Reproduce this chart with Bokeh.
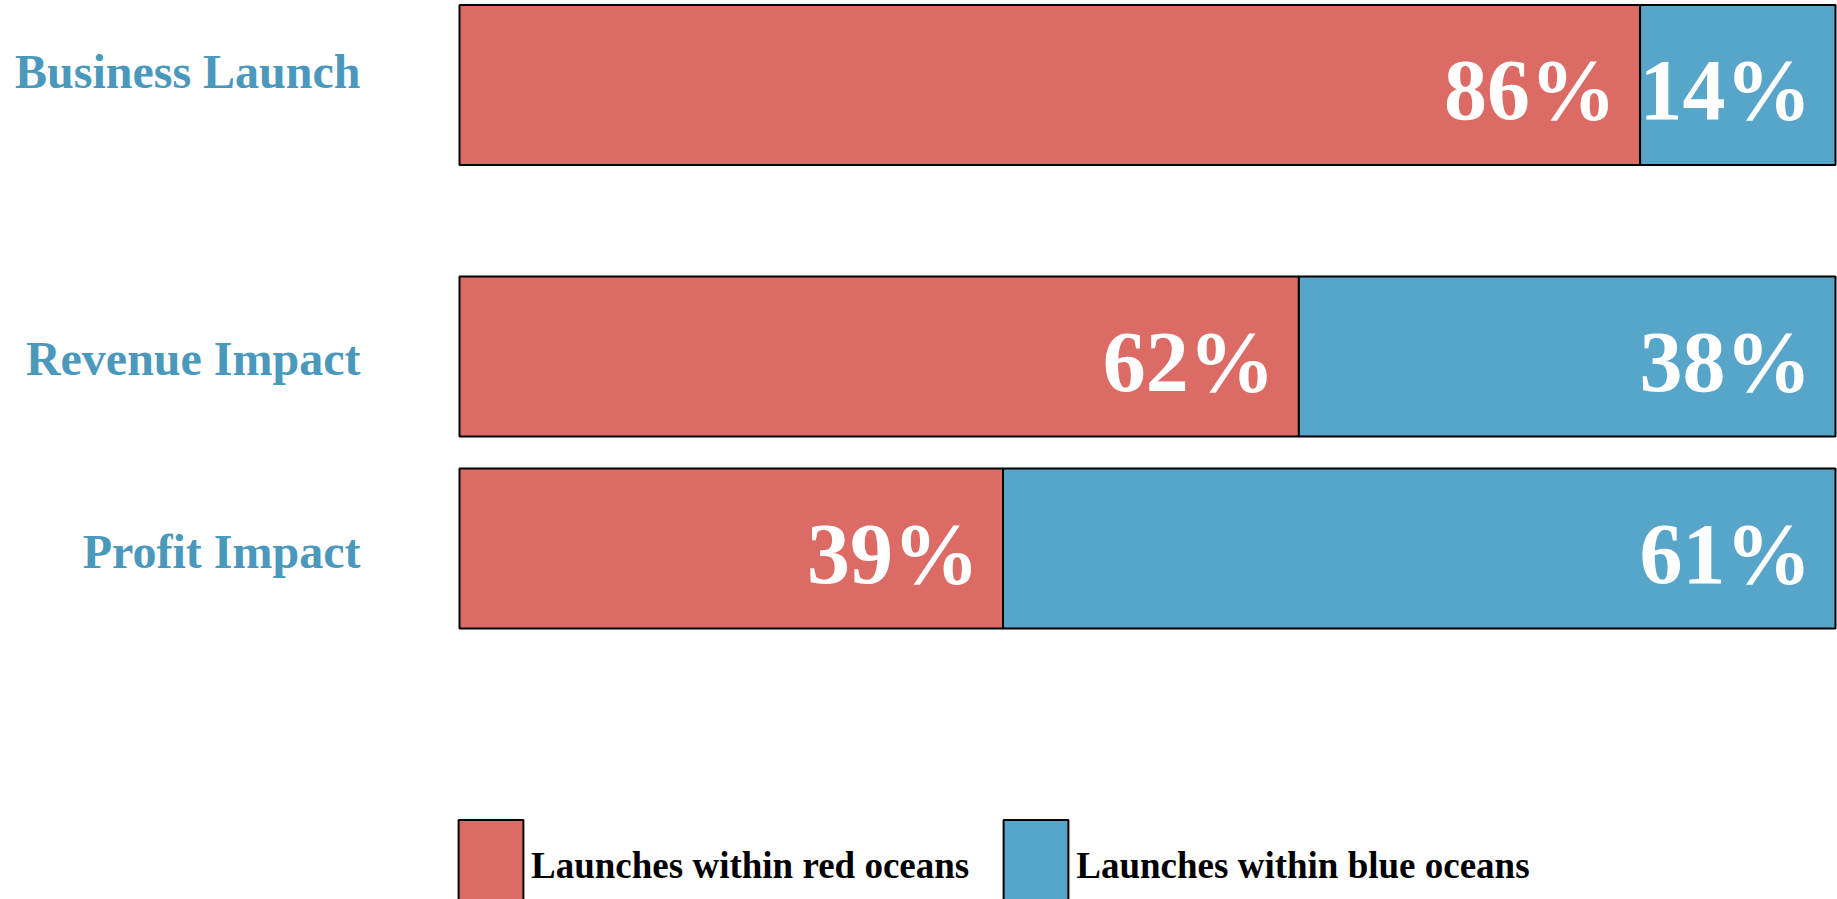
from bokeh.plotting import figure
from bokeh.models import ColumnDataSource, Range1d, Legend, LegendItem
from bokeh.core.properties import value
from bokeh.embed import file_html
from bokeh.resources import INLINE

# ---- data ----
categories = ["Business Launch", "Revenue Impact", "Profit Impact"]
red_share = [85.8, 61.0, 39.5]
blue_share = [14.2, 39.0, 60.5]
red_labels = ["86%", "62%", "39%"]
blue_labels = ["14%", "38%", "61%"]
series_names = ["Launches within red oceans", "Launches within blue oceans"]

# ---- layout / style ----
W, H = 1837, 899
PLOT_LEFT_PX = 459
PX_PER_UNIT = 13.76
ROW_Y = [84.5, 356, 548]        # row centres, pixels from top
BAR_H = 160
CAT_BASELINE_DY = [-13.5, 2, 3]
PCT_BASELINE_DY = 5
RED = "#DC6B66"
BLUE = "#57A5C8"
LABEL_BLUE = "#4A98BC"
FONT = "Liberation Serif"
SERIF = value(FONT)

zero = [0.0] * len(categories)
total = [r + b for r, b in zip(red_share, blue_share)]

src = ColumnDataSource(dict(
    cat=categories,
    y=ROW_Y,
    zero=zero,
    red=red_share,
    total=total,
    red_lbl=red_labels,
    blue_lbl=blue_labels,
    cat_y=[y + d for y, d in zip(ROW_Y, CAT_BASELINE_DY)],
    pct_y=[y + PCT_BASELINE_DY for y in ROW_Y],
))

p = figure(
    width=W, height=H,
    x_range=Range1d(-PLOT_LEFT_PX / PX_PER_UNIT, (W - PLOT_LEFT_PX) / PX_PER_UNIT),
    y_range=Range1d(H, 0),
    output_backend="svg", toolbar_location=None,
    min_border=0, x_axis_location=None, y_axis_location=None,
)
p.outline_line_color = None
p.grid.visible = False
p.background_fill_color = "white"
p.border_fill_color = "white"

r_red = p.hbar(y="y", left="zero", right="red", height=BAR_H, source=src,
               fill_color=RED, line_color="black", line_width=2)
r_blue = p.hbar(y="y", left="red", right="total", height=BAR_H, source=src,
                fill_color=BLUE, line_color="black", line_width=2)

# percentage labels inside segments
p.text(x="red", y="pct_y", text="red_lbl", source=src, x_offset=-24,
       text_align="right", text_baseline="alphabetic",
       text_font=SERIF, text_font_style="bold", text_font_size="86px",
       text_color="white")
p.text(x="total", y="pct_y", text="blue_lbl", source=src, x_offset=-24,
       text_align="right", text_baseline="alphabetic",
       text_font=SERIF, text_font_style="bold", text_font_size="86px",
       text_color="white")

# category labels
p.text(x="zero", y="cat_y", text="cat", source=src, x_offset=-99,
       text_align="right", text_baseline="alphabetic",
       text_font=SERIF, text_font_style="bold", text_font_size="48px",
       text_color=LABEL_BLUE)

legend = Legend(
    items=[LegendItem(label=series_names[0], renderers=[r_red]),
           LegendItem(label=series_names[1], renderers=[r_blue])],
    orientation="horizontal", location=(450, -24),
    glyph_width=81, glyph_height=115, label_standoff=0, spacing=26,
    padding=0, margin=0, border_line_color=None, background_fill_alpha=0,
    label_text_font=FONT, label_text_font_style="bold",
    label_text_font_size="37px", label_text_color="black",
)
p.add_layout(legend)

open("out.html", "w").write(file_html(p, INLINE))
